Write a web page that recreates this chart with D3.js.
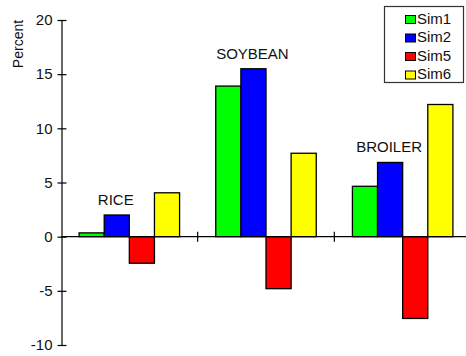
<!DOCTYPE html>
<html>
<head>
<meta charset="utf-8">
<script src="https://cdn.jsdelivr.net/npm/d3@7"></script>
<style>
  html, body { margin: 0; padding: 0; background: #fff; }
  svg { display: block; font-family: "Liberation Sans", Arial, sans-serif; }
</style>
</head>
<body>
<svg id="chart" width="466" height="356"></svg>
<script>
// ---- data ----
const categories = ["RICE", "SOYBEAN", "BROILER"];
const seriesNames = ["Sim1", "Sim2", "Sim5", "Sim6"];
const sim1 = [0.35, 13.9, 4.65];
const sim2 = [2.0, 15.5, 6.85];
const sim5 = [-2.45, -4.8, -7.55];
const sim6 = [4.05, 7.7, 12.2];
const yTicks = [-10, -5, 0, 5, 10, 15, 20];
const seriesColors = ["#00ff00", "#0000ff", "#ff0000", "#ffff00"];

const seriesValues = [sim1, sim2, sim5, sim6];
const rows = categories.map((c, i) => ({
  category: c,
  values: seriesNames.map((s, j) => ({ series: s, value: seriesValues[j][i], color: seriesColors[j] }))
}));

const svg = d3.select("#chart");

const y = d3.scaleLinear().domain([-10, 20]).range([345, 20]);
const x0 = d3.scaleBand().domain(categories).range([61, 471]).paddingInner(0).paddingOuter(0);
const x1 = d3.scaleBand().domain(seriesNames).range([0, x0.bandwidth()]).paddingInner(0).paddingOuter(0.72);

// bars
const groups = svg.append("g").selectAll("g").data(rows).join("g")
  .attr("transform", d => `translate(${x0(d.category)},0)`);

groups.selectAll("rect").data(d => d.values).join("rect")
  .attr("x", d => x1(d.series))
  .attr("width", x1.bandwidth())
  .attr("y", d => y(Math.max(0, d.value)))
  .attr("height", d => Math.abs(y(d.value) - y(0)))
  .attr("fill", d => d.color)
  .attr("stroke", "#000")
  .attr("stroke-width", 1.3);

// category labels centered over the Sim2 bar
groups.append("text")
  .attr("x", d => x1("Sim2") + x1.bandwidth() / 2 - 1)
  .attr("y", d => y(d.values[1].value) - 10)
  .attr("text-anchor", "middle")
  .attr("font-size", 15)
  .attr("fill", "#111")
  .text(d => d.category);

// y axis
const yAxis = d3.axisLeft(y).tickValues(yTicks).tickFormat(d => String(d)).tickSize(0).tickPadding(9);
const gy = svg.append("g").attr("transform", "translate(61.5,0)").call(yAxis);
gy.select(".domain").attr("stroke", "#000").attr("stroke-width", 1.2);
gy.selectAll(".tick text").attr("font-size", 15).attr("fill", "#111")
  .attr("font-family", "Liberation Sans, Arial, sans-serif");
gy.selectAll(".tick").append("line")
  .attr("x1", -4).attr("x2", 5).attr("stroke", "#000").attr("stroke-width", 1.2);

// x axis at zero
const gx = svg.append("g").attr("transform", `translate(0,${y(0)})`);
gx.append("line").attr("x1", x0.range()[0]).attr("x2", x0.range()[1])
  .attr("stroke", "#000").attr("stroke-width", 1.2);
gx.selectAll("line.sep").data(categories.slice(1)).join("line")
  .attr("class", "sep")
  .attr("x1", d => x0(d)).attr("x2", d => x0(d))
  .attr("y1", -5).attr("y2", 5)
  .attr("stroke", "#000").attr("stroke-width", 1.2);

// y axis title
svg.append("text")
  .attr("transform", "translate(23,44) rotate(-90)")
  .attr("text-anchor", "middle")
  .attr("font-size", 14)
  .attr("fill", "#111")
  .text("Percent");

// legend
const lg = svg.append("g");
lg.append("rect").attr("x", 384.5).attr("y", 6.5).attr("width", 79).attr("height", 76)
  .attr("fill", "#fff").attr("stroke", "#333").attr("stroke-width", 1.2);
const items = lg.selectAll("g.item").data(seriesNames).join("g")
  .attr("class", "item")
  .attr("transform", (d, i) => `translate(0,${23.5 + i * 18.5})`);
items.append("rect").attr("x", 405.5).attr("y", -8).attr("width", 10).attr("height", 8)
  .attr("fill", (d, i) => seriesColors[i]).attr("stroke", "#000").attr("stroke-width", 1);
items.append("text").attr("x", 417).attr("y", 0)
  .attr("font-size", 15).attr("fill", "#111").text(d => d);
</script>
</body>
</html>
